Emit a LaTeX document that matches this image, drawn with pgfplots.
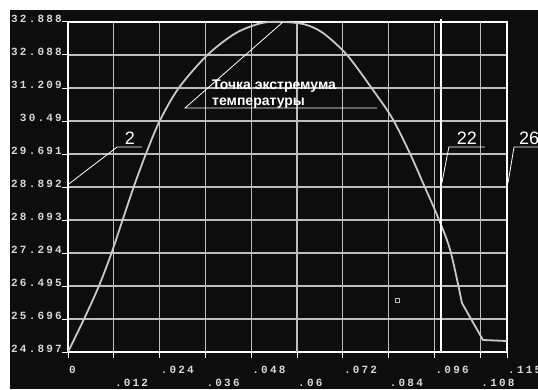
\documentclass[border=0pt]{standalone}
\usepackage{pgfplots}
\pgfplotsset{compat=1.18}
\usepackage{fontspec}
\setmainfont{Liberation Sans}
\setmonofont{Liberation Mono}
\newfontfamily\tickfont[LetterSpace=20]{Liberation Mono}
\definecolor{bg}{HTML}{0D0D0D}
\definecolor{gridc}{HTML}{BDBDBD}
\definecolor{curvec}{HTML}{C8C8C8}
\definecolor{tickc}{HTML}{D8D8D8}
\begin{document}
\begin{tikzpicture}[x=1pt,y=1pt]
\path[use as bounding box] (0,0) rectangle (538,389);
\fill[white] (0,0) rectangle (538,389);
\fill[bg] (10,0) rectangle (538,379);
\begin{axis}[
 at={(68pt,37pt)}, anchor=south west,
 scale only axis, width=439pt, height=330pt,
 xmin=0, xmax=0.115, ymin=24.897, ymax=32.888,
 clip=false,
 axis line style={white, line width=1.6pt},
 grid=major, major grid style={gridc, line width=1.1pt},
 tick pos=left, tick align=outside, major tick length=6pt,
 tick style={white, line width=1pt},
 xtick={0,0.024,0.048,0.072,0.096,0.115},
 xticklabels={0,.024,.048,.072,.096,.115},
 extra x ticks={0.012,0.036,0.06,0.084,0.108},
 extra x tick labels={.012,.036,.06,.084,.108},
 extra x tick style={grid=major, xticklabel style={yshift=-13pt}},
 ytick={24.897,25.6961,26.4952,27.2943,28.0934,28.8925,29.6916,30.4907,31.2898,32.0889,32.888},
 yticklabels={24.897,25.696,26.495,27.294,28.093,28.892,29.691,30.49,31.209,32.088,32.888},
 xticklabel style={anchor=north west, inner sep=0pt, yshift=-8pt, xshift=1pt},
 yticklabel style={anchor=east, inner sep=0pt, yshift=3pt},
 ticklabel style={font=\tickfont\bfseries\fontsize{11}{11}\selectfont, text=tickc},
 scaled x ticks=false,
]
\addplot[curvec, line width=1.8pt, smooth, tension=0.5] coordinates {
 (0,24.897) (0.0042,25.696) (0.0081,26.495) (0.0114,27.294) (0.0143,28.093)
 (0.0172,28.892) (0.0204,29.691) (0.0240,30.490) (0.0290,31.289)
 (0.0365,32.088) (0.0440,32.622) (0.0508,32.864) (0.0563,32.888)
 (0.0620,32.830) (0.0668,32.622) (0.0731,32.089) (0.0799,31.241) (0.0849,30.563)
 (0.0895,29.72) (0.0930,28.989) (0.0965,28.25) (0.1001,27.37) (0.1032,26.084)
};
\addplot[curvec, line width=1.8pt] coordinates {(0.1032,26.084) (0.1087,25.188) (0.115,25.163)};
\addplot[white, line width=2.2pt] coordinates {(0.0977,24.897) (0.0977,32.97)};
\addplot[white, line width=0.8pt] coordinates {(0,28.95) (0.01287,29.861) (0.01943,29.861)};
\addplot[white, line width=0.8pt] coordinates {(0.09794,28.989) (0.09977,29.861) (0.10923,29.861)};
\addplot[white, line width=0.8pt] coordinates {(0.11526,28.989) (0.11684,29.861) (0.12314,29.861)};
\addplot[white, line width=0.8pt] coordinates {(0.05632,32.888) (0.03065,30.805) (0.08095,30.805)};
\addplot[only marks, mark=square, mark size=1.8pt, gridc, mark options={line width=0.6pt}] coordinates {(0.0862,26.156)};
\node[anchor=base, inner sep=0pt, font=\fontsize{18}{18}\selectfont, text=white] at (axis cs:0.0162,29.91) {2};
\node[anchor=base, inner sep=0pt, font=\fontsize{18}{18}\selectfont, text=white] at (axis cs:0.1045,29.91) {22};
\node[anchor=base, inner sep=0pt, font=\fontsize{18}{18}\selectfont, text=white] at (axis cs:0.12077,29.91) {26};
\node[anchor=base west, inner sep=0pt, align=left, font=\bfseries\fontsize{14}{16}\selectfont, text=white] at (axis cs:0.03772,30.854) {Точка экстремума\\температуры};
\end{axis}
\end{tikzpicture}
\end{document}
